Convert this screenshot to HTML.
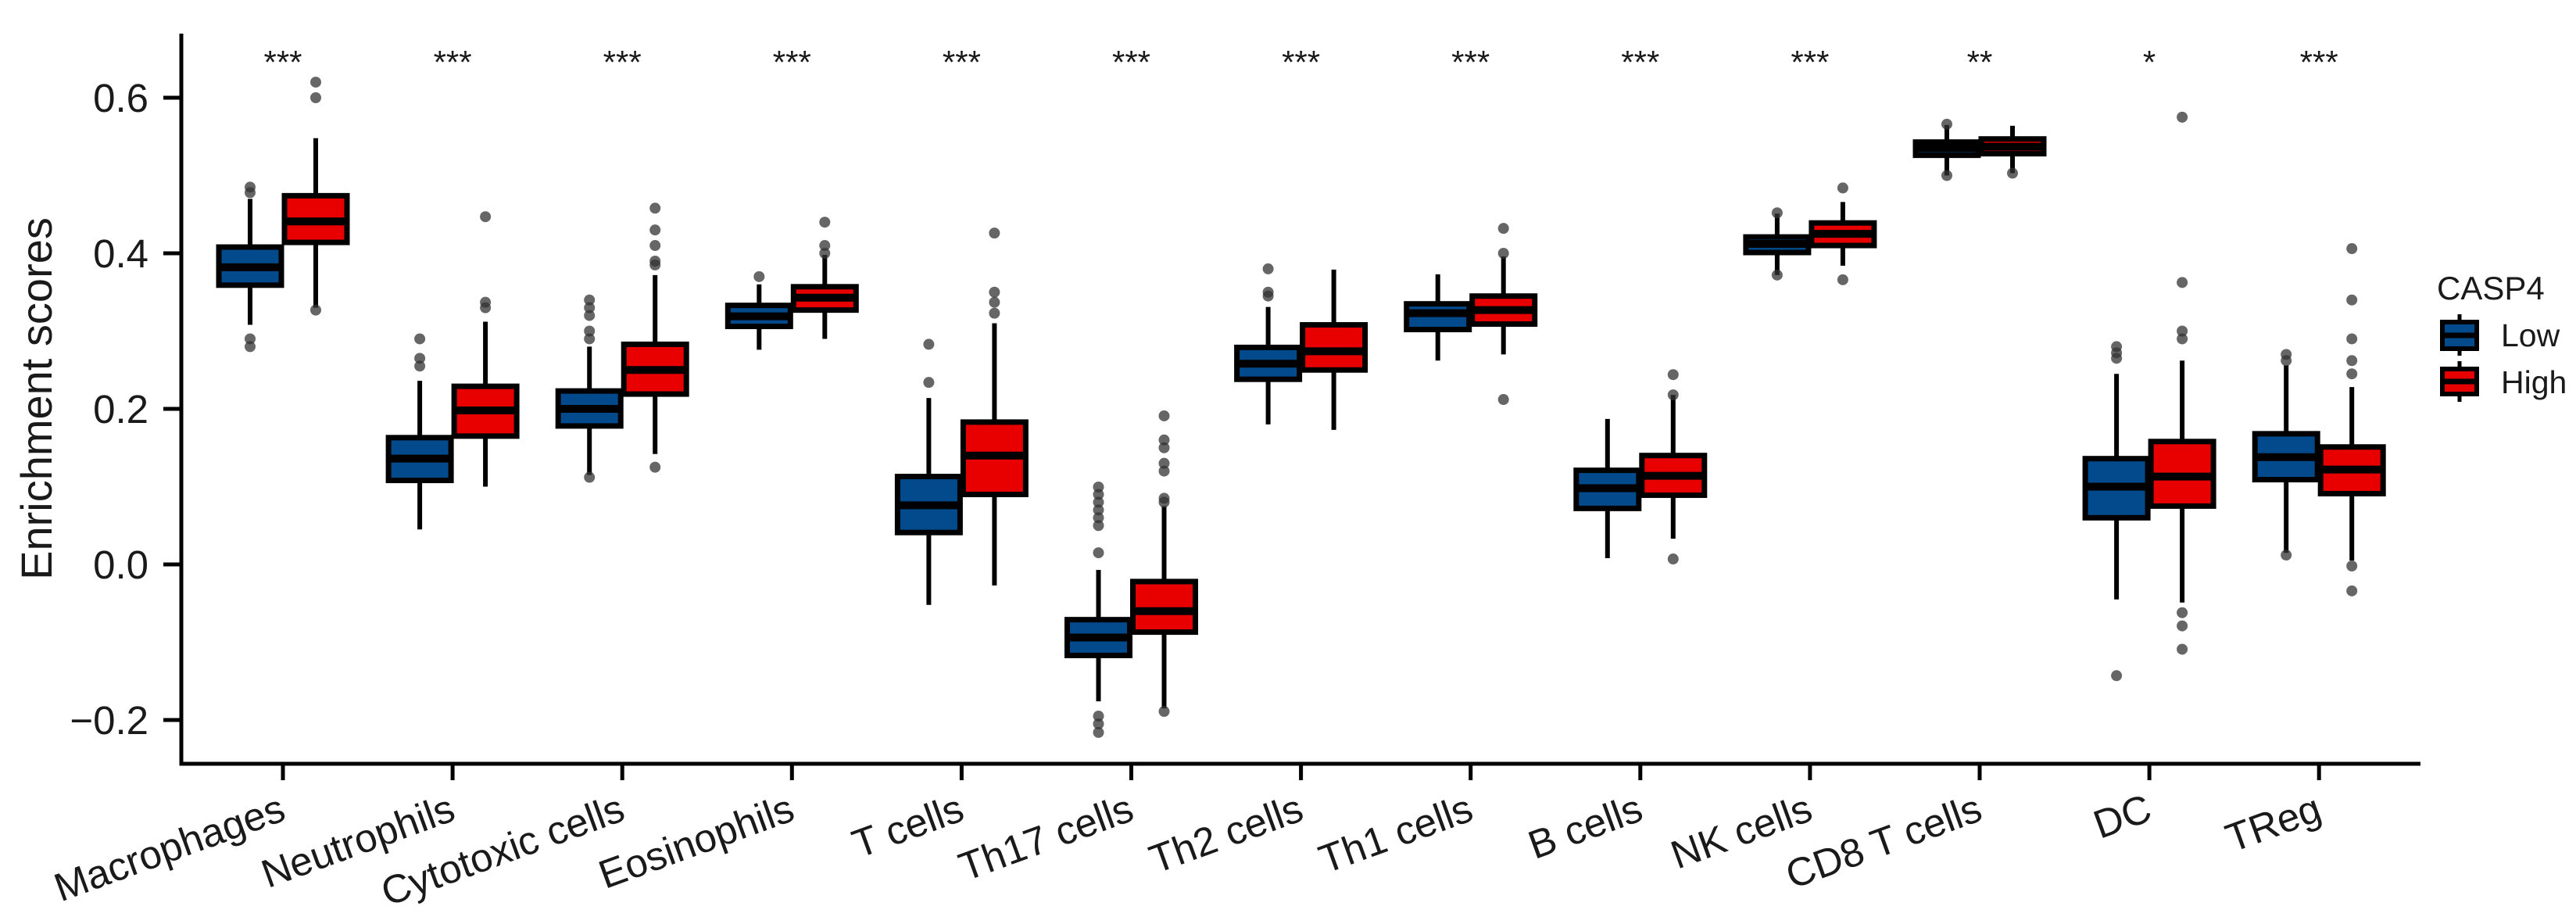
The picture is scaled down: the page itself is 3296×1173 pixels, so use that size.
<!DOCTYPE html>
<html>
<head>
<meta charset="utf-8">
<style>
html,body{margin:0;padding:0;background:#fff;}
svg{display:block;}
text{font-family:"Liberation Sans",Arial,sans-serif;fill:#1a1a1a;}
</style>
</head>
<body>
<svg id="chart" width="3296" height="1173" viewBox="0 0 3296 1173" xmlns="http://www.w3.org/2000/svg">
  <rect x="0" y="0" width="3296" height="1173" fill="#fff"/>
  <g id="marks"></g>
  <g id="axes"></g>
  <text transform="translate(66,510) rotate(-90)" text-anchor="middle" font-size="56">Enrichment scores</text>
  <g>
    <text x="3118" y="383" font-size="42">CASP4</text>
    <g>
      <line x1="3147" y1="402" x2="3147" y2="455" stroke="#000" stroke-width="5"/>
      <rect x="3125" y="412" width="44" height="34" fill="#034a8c" stroke="#000" stroke-width="6"/>
      <line x1="3125" y1="429" x2="3169" y2="429" stroke="#000" stroke-width="7"/>
      <text x="3200" y="443" font-size="41">Low</text>
    </g>
    <g>
      <line x1="3147" y1="462" x2="3147" y2="514" stroke="#000" stroke-width="5"/>
      <rect x="3125" y="472" width="44" height="32" fill="#e80000" stroke="#000" stroke-width="6"/>
      <line x1="3125" y1="488" x2="3169" y2="488" stroke="#000" stroke-width="7"/>
      <text x="3200" y="503" font-size="41">High</text>
    </g>
  </g>
</svg>
<script>
const categories = ["Macrophages","Neutrophils","Cytotoxic cells","Eosinophils","T cells","Th17 cells","Th2 cells","Th1 cells","B cells","NK cells","CD8 T cells","DC","TReg"];
const significance = ["***","***","***","***","***","***","***","***","***","***","**","*","***"];
const yTicks = [-0.2, 0.0, 0.2, 0.4, 0.6];
const yTickLabels = ["\u22120.2","0.0","0.2","0.4","0.6"];
// [whiskerLow, q1, median, q3, whiskerHigh]
const lowStats = [
  [0.308,0.359,0.382,0.408,0.470],
  [0.045,0.108,0.136,0.163,0.236],
  [0.115,0.178,0.200,0.223,0.280],
  [0.276,0.306,0.319,0.333,0.360],
  [-0.052,0.041,0.076,0.113,0.214],
  [-0.176,-0.117,-0.094,-0.071,-0.007],
  [0.180,0.238,0.258,0.279,0.331],
  [0.262,0.302,0.323,0.335,0.373],
  [0.008,0.072,0.098,0.121,0.187],
  [0.372,0.401,0.412,0.421,0.451],
  [0.500,0.526,0.535,0.543,0.565],
  [-0.045,0.060,0.100,0.136,0.245],
  [0.015,0.109,0.138,0.168,0.256]
];
const highStats = [
  [0.330,0.414,0.441,0.474,0.548],
  [0.100,0.165,0.198,0.229,0.312],
  [0.142,0.219,0.250,0.283,0.372],
  [0.290,0.327,0.343,0.357,0.398],
  [-0.027,0.090,0.140,0.183,0.310],
  [-0.185,-0.087,-0.060,-0.022,0.075],
  [0.173,0.250,0.274,0.308,0.379],
  [0.270,0.309,0.327,0.345,0.396],
  [0.033,0.089,0.114,0.140,0.218],
  [0.384,0.410,0.425,0.439,0.466],
  [0.503,0.528,0.537,0.547,0.564],
  [-0.049,0.075,0.113,0.158,0.262],
  [0.005,0.091,0.122,0.151,0.228]
];
const lowOutliers = [
  [0.485,0.478,0.29,0.28],
  [0.29,0.265,0.255],
  [0.34,0.33,0.32,0.30,0.29,0.112],
  [0.37],
  [0.283,0.234],
  [0.0995,0.09,0.08,0.07,0.06,0.05,0.015,-0.195,-0.205,-0.216],
  [0.380,0.350,0.345],
  [],
  [],
  [0.452,0.372],
  [0.566,0.500],
  [0.28,0.272,0.265,-0.143],
  [0.27,0.262,0.012]
];
const highOutliers = [
  [0.62,0.60,0.327],
  [0.447,0.337,0.33],
  [0.458,0.43,0.41,0.39,0.385,0.125],
  [0.44,0.41,0.40],
  [0.426,0.350,0.337,0.323],
  [0.191,0.16,0.15,0.13,0.12,0.085,0.08,-0.189],
  [],
  [0.432,0.40,0.212],
  [0.244,0.218,0.007],
  [0.484,0.366],
  [0.503],
  [0.575,0.3625,0.30,0.29,-0.062,-0.079,-0.109],
  [0.406,0.340,0.290,0.262,0.245,-0.002,-0.034]
];

const NS = "http://www.w3.org/2000/svg";
const X0 = 362, XSTEP = 217.1, AXL = 232, AXR = 3097, AXB = 977;
function xScale(i){ return X0 + i*XSTEP; }
function yScale(v){ return 722 - 995*v; }
function mk(tag, attrs, parent){ const e=document.createElementNS(NS,tag); for(const k in attrs) e.setAttribute(k,attrs[k]); parent.appendChild(e); return e; }

const marks = document.getElementById('marks');
const axes = document.getElementById('axes');
const BW = 80, OFF = 42;

function drawBox(cx, st, outs, fill, name){
  const g = mk('g', {}, marks);
  
  
  mk('line',{x1:cx,x2:cx,y1:yScale(st[4]),y2:yScale(st[0]),stroke:'#000','stroke-width':6},g);
  mk('rect',{x:cx-BW/2,y:yScale(st[3]),width:BW,height:Math.max(1,yScale(st[1])-yScale(st[3])),fill:fill,stroke:'#000','stroke-width':7},g);
  mk('line',{x1:cx-BW/2,x2:cx+BW/2,y1:yScale(st[2]),y2:yScale(st[2]),stroke:'#000','stroke-width':10},g);
  outs.forEach(function(v){
    const c = mk('circle',{cx:cx,cy:yScale(v),r:7,fill:'#333','fill-opacity':0.75},g);
    
    
  });
}

categories.forEach(function(cat,i){
  const cx = xScale(i);
  const slug = cat.toLowerCase().replace(/\s+/g,'-');
  drawBox(cx-OFF, lowStats[i], lowOutliers[i], '#034a8c', 'box-low-'+slug);
  drawBox(cx+OFF, highStats[i], highOutliers[i], '#e80000', 'box-high-'+slug);
  const s = mk('text',{x:cx,y:94,'text-anchor':'middle','font-size':42},marks);
  
  
  s.textContent = significance[i];
  const t = mk('line',{x1:cx,x2:cx,y1:AXB,y2:AXB+21,stroke:'#000','stroke-width':5},axes);
  
  
  const lb = mk('text',{'text-anchor':'end','font-size':51,transform:'translate('+(cx+6)+',1048) rotate(-20)'},axes);
  
  
  lb.textContent = cat;
});

yTicks.forEach(function(v,i){
  const y = yScale(v);
  const t = mk('line',{x1:AXL-23,x2:AXL,y1:y,y2:y,stroke:'#000','stroke-width':5},axes);
  
  
  const lb = mk('text',{x:190,y:y+18,'text-anchor':'end','font-size':51},axes);
  
  
  lb.textContent = yTickLabels[i];
});
const ya = mk('line',{x1:AXL,x2:AXL,y1:43,y2:AXB+2.5,stroke:'#000','stroke-width':5},axes);


const xa = mk('line',{x1:AXL-2.5,x2:AXR,y1:AXB,y2:AXB,stroke:'#000','stroke-width':5},axes);


</script>
</body>
</html>
